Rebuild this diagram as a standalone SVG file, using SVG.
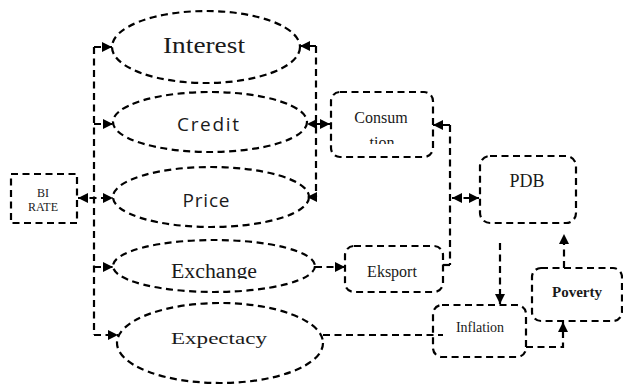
<svg xmlns="http://www.w3.org/2000/svg" width="623" height="387" viewBox="0 0 623 387">
<style>
.sh{fill:none;stroke:#000;stroke-width:2.2;stroke-dasharray:7 4.5}
.ln{fill:none;stroke:#000;stroke-width:2.2;stroke-dasharray:7 4.5}
.se{font-family:'Liberation Serif','DejaVu Serif',serif;fill:#1a1a1a;text-anchor:middle}
.sa{font-family:'Open Sans','Liberation Sans',sans-serif;fill:#1a1a1a;text-anchor:middle}
</style>
<defs>
<marker id="a" markerUnits="userSpaceOnUse" markerWidth="10" markerHeight="10" refX="8" refY="4" orient="auto-start-reverse" viewBox="0 0 8 8">
<path d="M0,0 L8,4 L0,8 z" fill="#000"/>
</marker>
<clipPath id="cEx"><rect x="100" y="240" width="230" height="39"/></clipPath>
<clipPath id="cCo"><rect x="331" y="92" width="102" height="52"/></clipPath>
</defs>
<g id="connectors">
<path class="ln" d="M94,47 V335"/>
<path class="ln" d="M94,47 H112" marker-end="url(#a)"/>
<path class="ln" d="M94,124 H113" marker-end="url(#a)"/>
<path class="ln" d="M94,267 H113" marker-end="url(#a)"/>
<path class="ln" d="M94,335 H118" marker-end="url(#a)"/>
<path class="ln" d="M78,198 H113" marker-start="url(#a)" marker-end="url(#a)"/>
<path class="ln" d="M316,46 V197"/>
<path class="ln" d="M316,46 H300" marker-end="url(#a)"/>
<path class="ln" d="M316,124 H307" marker-end="url(#a)"/>
<path class="ln" d="M316,124 H330" marker-end="url(#a)"/>
<path class="ln" d="M316,197 H307" marker-end="url(#a)"/>
<path class="ln" d="M450,125 V265"/>
<path class="ln" d="M450,125 H433" marker-end="url(#a)"/>
<path class="ln" d="M443,265 H450"/>
<path class="ln" d="M452,198 H479" marker-start="url(#a)" marker-end="url(#a)"/>
<path class="ln" d="M315,267 H345" marker-end="url(#a)"/>
<path class="ln" d="M323,335 H443"/>
<path class="ln" d="M500,243 V304" marker-end="url(#a)"/>
<path class="ln" d="M526,347 H563 V322" marker-end="url(#a)"/>
<path class="ln" d="M564,268 V234" marker-end="url(#a)"/>
</g>
<g id="interest">
<ellipse class="sh" cx="206" cy="47" rx="94" ry="36"/>
<text class="se" x="204" y="53" font-size="23" textLength="82" lengthAdjust="spacingAndGlyphs">Interest</text>
</g>
<g id="credit">
<ellipse class="sh" cx="210" cy="122" rx="97" ry="30"/>
<text class="sa" x="208" y="131" font-size="19" textLength="62" lengthAdjust="spacing">Credit</text>
</g>
<g id="price">
<ellipse class="sh" cx="211" cy="197" rx="98" ry="30"/>
<text class="sa" x="206" y="207" font-size="19" textLength="47" lengthAdjust="spacing">Price</text>
</g>
<g id="exchange">
<ellipse class="sh" cx="214" cy="266" rx="101" ry="26"/>
<text class="se" x="214" y="278" font-size="20" textLength="86" lengthAdjust="spacingAndGlyphs" clip-path="url(#cEx)">Exchange</text>
</g>
<g id="expectacy">
<ellipse class="sh" cx="220" cy="343" rx="103" ry="40"/>
<text class="se" x="219" y="344" font-size="17" textLength="96" lengthAdjust="spacingAndGlyphs">Expectacy</text>
</g>
<g id="birate">
<rect class="sh" x="11" y="174" width="66" height="49"/>
<text class="se" x="43" y="197" font-size="12">BI</text>
<text class="se" x="43" y="211" font-size="12">RATE</text>
</g>
<g id="consumtion">
<rect class="sh" x="331" y="92" width="102" height="65" rx="9"/>
<g clip-path="url(#cCo)">
<text class="se" x="381" y="123" font-size="16">Consum</text>
<text class="se" x="382" y="148" font-size="16">tion</text>
</g>
</g>
<g id="eksport">
<rect class="sh" x="345" y="246" width="98" height="46" rx="9"/>
<text class="se" x="392" y="277" font-size="16">Eksport</text>
</g>
<g id="pdb">
<rect class="sh" x="480" y="156" width="96" height="67" rx="10"/>
<text class="se" x="527" y="187" font-size="18">PDB</text>
</g>
<g id="inflation">
<rect class="sh" x="433" y="305" width="93" height="52" rx="9"/>
<text class="se" x="480" y="332" font-size="14">Inflation</text>
</g>
<g id="poverty">
<rect class="sh" x="532" y="268" width="90" height="53" rx="9"/>
<text class="se" x="577" y="297" font-size="15" font-weight="bold">Poverty</text>
</g>
</svg>
